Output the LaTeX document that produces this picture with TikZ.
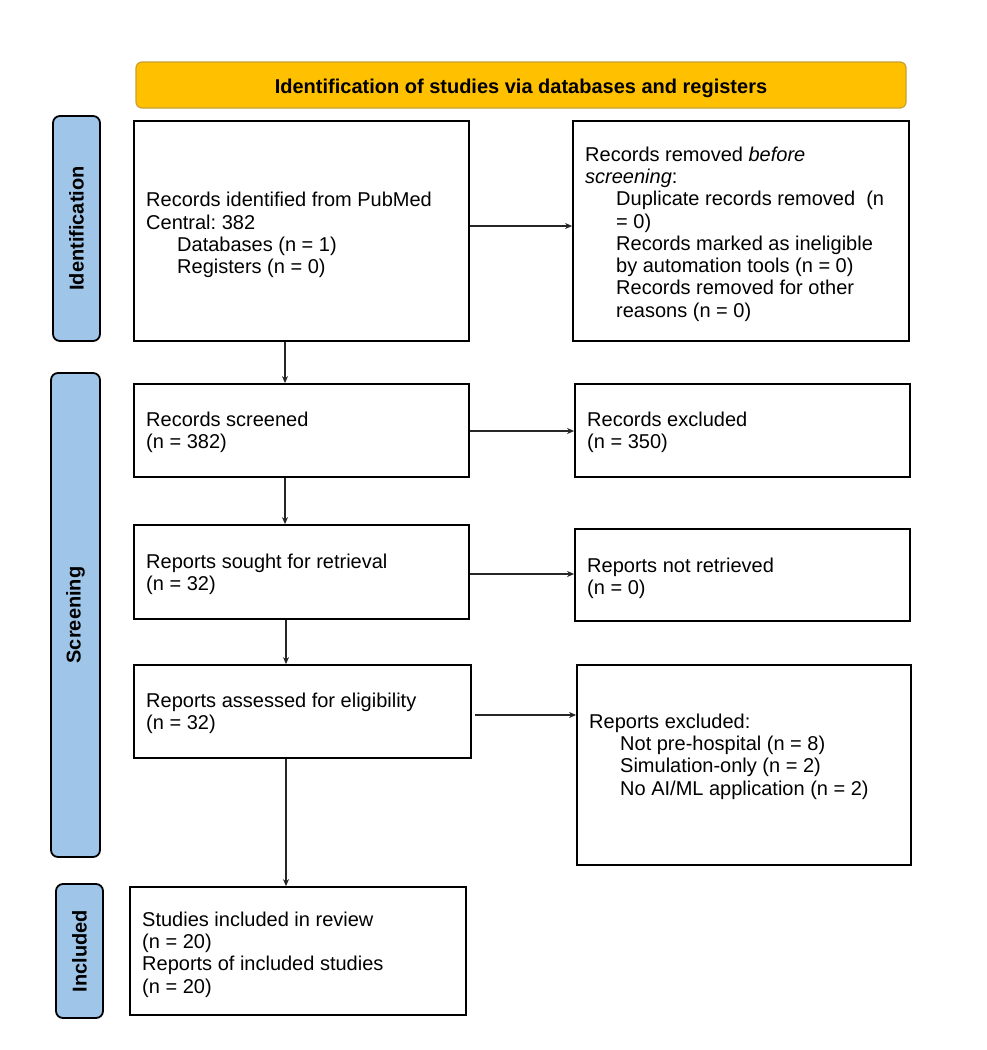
\documentclass[tikz,border=0pt]{standalone}
\usepackage{fontspec}
\setmainfont{Liberation Sans}
\usetikzlibrary{arrows.meta}
\definecolor{hdrfill}{HTML}{FFC000}
\definecolor{hdrline}{HTML}{C9A02E}
\definecolor{sidefill}{HTML}{9FC5E8}
\newcommand{\ind}{\hspace*{31pt}}
\frenchspacing
\begin{document}
\begin{tikzpicture}[x=1pt,y=-1pt,
  box/.style={draw=black,line width=1.8pt,inner sep=0pt,fill=white},
  side/.style={draw=black,line width=1.8pt,fill=sidefill,rounded corners=7pt,rotate=90,inner sep=0pt,
     font=\fontsize{20}{22}\selectfont\bfseries},
  txt/.style={anchor=west,align=left,inner sep=0pt,font=\fontsize{20}{22.3}\selectfont},
  arr/.style={draw=black!85,line width=1.1pt,-{Stealth[length=7pt,width=6pt]}}]
\useasboundingbox[fill=white] (0,0) rectangle (986,1050);
% header
\node[draw=hdrline,line width=1.2pt,fill=hdrfill,rounded corners=6pt,minimum width=770pt,minimum height=46pt,inner sep=0pt] (hdr) at (521,85) {};
\node[font=\fontsize{20}{22}\selectfont\bfseries,inner sep=0pt] (hdrtxt) at (521,88) {Identification of studies via databases and registers};
% side bars
\node[side,minimum width=225pt,minimum height=47pt] (s1) at (76.5,228.5) {Identification};
\node[side,minimum width=484pt,minimum height=49pt] (s2) at (75.5,615) {Screening};
\node[side,minimum width=134pt,minimum height=47pt] (s3) at (79.5,951) {Included};
% boxes
\node[box,minimum width=335pt,minimum height=220pt] (A) at (301.5,231) {};
\node[box,minimum width=336pt,minimum height=220pt] (B) at (741,231) {};
\node[box,minimum width=335pt,minimum height=93pt] (C) at (301.5,430.5) {};
\node[box,minimum width=335pt,minimum height=93pt] (D) at (742.5,430.5) {};
\node[box,minimum width=335pt,minimum height=94pt] (E) at (301.5,572) {};
\node[box,minimum width=335pt,minimum height=92pt] (F) at (742.5,575) {};
\node[box,minimum width=337pt,minimum height=93pt] (G) at (302.5,711.5) {};
\node[box,minimum width=334pt,minimum height=200pt] (H) at (744,765) {};
\node[box,minimum width=336pt,minimum height=128pt] (I) at (298,951) {};
% texts
\node[txt] (tA) at (146,235) {Records identified from PubMed\\Central: 382\\\ind Databases (n = 1)\\\ind Registers (n = 0)};
\node[txt] (tB) at (585,234) {Records removed \textit{before}\\\textit{screening}:\\\ind Duplicate records removed\ \ (n\\\ind = 0)\\\ind Records marked as ineligible\\\ind by automation tools (n = 0)\\\ind Records removed for other\\\ind reasons (n = 0)};
\node[txt] (tC) at (146,432.5) {Records screened\\(n = 382)};
\node[txt] (tD) at (587,432.5) {Records excluded\\(n = 350)};
\node[txt] (tE) at (146,574) {Reports sought for retrieval\\(n = 32)};
\node[txt] (tF) at (587,578) {Reports not retrieved\\(n = 0)};
\node[txt] (tG) at (146,713.5) {Reports assessed for eligibility\\(n = 32)};
\node[txt] (tH) at (589,756.5) {Reports excluded:\\\ind Not pre-hospital (n = 8)\\\ind Simulation-only (n = 2)\\\ind No AI/ML application (n = 2)};
\node[txt] (tI) at (142,954.5) {Studies included in review\\(n = 20)\\Reports of included studies\\(n = 20)};
% connectors
\draw[arr] (A.east |- 0,226) -- (B.west |- 0,226);
\draw[arr] (C.east |- 0,431) -- (D.west |- 0,431);
\draw[arr] (E.east |- 0,574) -- (F.west |- 0,574);
\draw[arr] ([xshift=3pt]G.east |- 0,715) -- (H.west |- 0,715);
\draw[arr] (A.south -| 285,0) -- (C.north -| 285,0);
\draw[arr] (C.south -| 285,0) -- (E.north -| 285,0);
\draw[arr] (E.south -| 286,0) -- (G.north -| 286,0);
\draw[arr] (G.south -| 286,0) -- (I.north -| 286,0);
\end{tikzpicture}
\end{document}
